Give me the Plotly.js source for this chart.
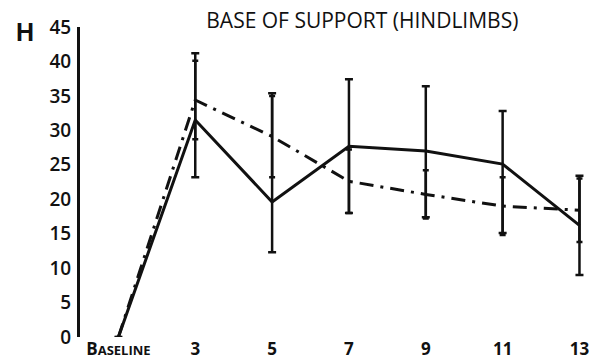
<!DOCTYPE html>
<html>
<head>
<meta charset="utf-8">
<script src="https://cdn.plot.ly/plotly-3.0.1.min.js"></script>
<style>
  html, body { margin: 0; padding: 0; background: #fff; }
  #chart { width: 594px; height: 360px; }
</style>
</head>
<body>
<div id="chart"></div>
<script>
// Days post injury (index positions on the x axis)
const dayPositions = [0, 1, 2, 3, 4, 5, 6];
const dayLabels = ['B<span style="font-size:13px">ASELINE</span>', '3', '5', '7', '9', '11', '13'];

// Base of support, hindlimbs (mm) – solid group with upper/lower error
const groupSolid = [0, 31.5, 19.6, 27.7, 27.0, 25.1, 16.2];
const groupSolidErrUp = [0, 9.7, 15.8, 9.7, 9.4, 7.7, 7.2];
const groupSolidErrDown = [0, 8.3, 7.3, 9.7, 9.6, 10.0, 7.2];

// Dash-dot group
const groupDashDot = [0, 34.4, 29.1, 22.6, 20.7, 19.0, 18.4];
const groupDashDotErr = [0, 5.7, 5.9, 4.6, 3.5, 4.2, 4.6];

const yTicks = [0, 5, 10, 15, 20, 25, 30, 35, 40, 45];

const traces = [
  {
    x: dayPositions, y: groupDashDot, type: 'scatter', mode: 'lines',
    line: { color: '#111', width: 3, dash: '14px,7px,3px,7px' },
    error_y: { type: 'data', array: groupDashDotErr, visible: true, color: '#111', thickness: 2.5, width: 3 },
    hoverinfo: 'skip', showlegend: false
  },
  {
    x: dayPositions, y: groupSolid, type: 'scatter', mode: 'lines',
    line: { color: '#111', width: 3 },
    error_y: {
      type: 'data', symmetric: false, array: groupSolidErrUp, arrayminus: groupSolidErrDown,
      visible: true, color: '#111', thickness: 2.5, width: 4
    },
    hoverinfo: 'skip', showlegend: false
  }
];

const layout = {
  width: 594, height: 360,
  margin: { l: 80, r: 3, t: 27, b: 23 },
  paper_bgcolor: '#fff', plot_bgcolor: '#fff',
  font: { family: '"Open Sans", "Noto Sans", sans-serif', color: '#111' },
  title: {
    text: 'BASE OF SUPPORT (HINDLIMBS)',
    font: { size: 21, weight: 500, color: '#111' },
    x: 0.61, xanchor: 'center', y: 0.944, yanchor: 'middle'
  },
  xaxis: {
    range: [-0.5, 6.15], showgrid: false, zeroline: false, showline: false,
    tickmode: 'array', tickvals: dayPositions, ticktext: dayLabels,
    ticks: '', ticklen: 0, tickfont: { size: 17, weight: 700, color: '#111' },
    fixedrange: true
  },
  yaxis: {
    range: [0, 45], showgrid: false, zeroline: false,
    showline: true, linecolor: '#111', linewidth: 3,
    tickmode: 'array', tickvals: yTicks, ticks: '', ticklabelstandoff: 2,
    tickfont: { size: 19, weight: 600, color: '#111' },
    fixedrange: true
  },
  annotations: [
    {
      text: 'H', xref: 'paper', yref: 'paper', x: -0.108, y: 0.985,
      xanchor: 'center', yanchor: 'middle', showarrow: false,
      font: { family: '"Liberation Sans", Arial, sans-serif', size: 25, weight: 700, color: '#111' }
    }
  ]
};

Plotly.newPlot('chart', traces, layout, { staticPlot: true, displayModeBar: false });
</script>
</body>
</html>
